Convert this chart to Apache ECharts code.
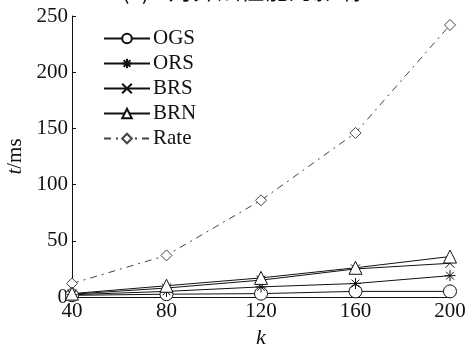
<!DOCTYPE html>
<html>
<head>
<meta charset="utf-8">
<script src="https://cdn.jsdelivr.net/npm/echarts@6/dist/echarts.min.js"></script>
<style>
    html, body { margin: 0; padding: 0; background: #fff; }
    #kChart { width: 471px; height: 345px; }
</style>
</head>
<body>
<div id="kChart"></div>
<script>
    // 横坐标 k
    var kValues = ['40', '80', '120', '160', '200'];
    // 各算法耗时 t/ms
    var ogsData = [1.5, 2.5, 3, 5, 5];
    var orsData = [2, 5, 9, 12, 19];
    var brsData = [2.5, 8, 15, 25, 30];
    var brnData = [3, 10, 17, 26, 36];
    var rateData = [12, 37, 86, 146, 242];
    // 纵坐标刻度
    var yTicks = [0, 50, 100, 150, 200, 250];

    var serif = '"Liberation Serif", "DejaVu Serif", serif';
    var ink = '#111';

    // 标记形状（空心，细线）
    var circlePath = 'path://M10,5A5,5 0 1,1 0,5A5,5 0 1,1 10,5Z';
    var starPath = 'path://M5,0L5,10M0,5L10,5M1.5,1.5L8.5,8.5M8.5,1.5L1.5,8.5';
    var crossPath = 'path://M0,0L10,10M10,0L0,10';
    var trianglePath = 'path://M5,0L10,9L0,9Z';
    var diamondPath = 'path://M5,0L10,5L5,10L0,5Z';

    // 折线
    function makeLine(name, data, symbol, size, dashed) {
        var c = dashed ? '#444' : ink;
        return {
            name: name,
            type: 'line',
            data: data,
            symbol: symbol,
            symbolSize: size,
            showSymbol: true,
            lineStyle: {
                color: c,
                width: 1,
                type: dashed ? [7, 5, 2, 5] : 'solid'
            },
            itemStyle: {
                color: '#fff',
                borderColor: c,
                borderWidth: 1
            },
            z: dashed ? 2 : 3
        };
    }

    var myChart = echarts.init(document.getElementById('kChart'));
    myChart.setOption({
        animation: false,
        backgroundColor: '#fff',
        title: {
            text: '(c) k对算法性能的影响',
            left: 241,
            textAlign: 'center',
            top: -22,
            padding: 0,
            textStyle: {
                fontFamily: '"Noto Sans CJK SC", ' + serif,
                fontSize: 24,
                fontWeight: 'normal',
                color: ink
            }
        },
        legend: {
            orient: 'vertical',
            left: 98,
            top: 23,
            itemWidth: 46,
            itemHeight: 12,
            itemGap: 4,
            data: ['OGS', 'ORS', 'BRS', 'BRN', 'Rate'],
            textStyle: {
                fontFamily: serif,
                fontSize: 21,
                color: ink,
                padding: [0, 0, 0, -2]
            }
        },
        grid: {
            left: 72,
            right: 21,
            top: 16,
            bottom: 48,
            outerBoundsMode: 'none'
        },
        xAxis: {
            type: 'category',
            boundaryGap: false,
            data: kValues,
            name: 'k',
            nameLocation: 'middle',
            nameGap: 21,
            nameTextStyle: {
                fontFamily: serif,
                fontSize: 22,
                fontStyle: 'italic',
                color: ink
            },
            axisLine: { lineStyle: { color: ink, width: 1 } },
            axisTick: { inside: true, length: 4, lineStyle: { color: ink } },
            axisLabel: {
                fontFamily: serif,
                fontSize: 21,
                color: ink,
                margin: 4
            },
            splitLine: { show: false }
        },
        yAxis: {
            type: 'value',
            min: yTicks[0],
            max: yTicks[yTicks.length - 1],
            interval: 50,
            name: '{i|t}/ms',
            nameLocation: 'middle',
            nameRotate: 90,
            nameGap: 34,
            nameTextStyle: {
                fontFamily: serif,
                fontSize: 21,
                color: ink,
                rich: {
                    i: { fontFamily: serif, fontSize: 21, fontStyle: 'italic', color: ink }
                }
            },
            axisLine: { show: true, lineStyle: { color: ink, width: 1 } },
            axisTick: { show: true, inside: true, length: 4, lineStyle: { color: ink } },
            axisLabel: {
                fontFamily: serif,
                fontSize: 21,
                color: ink,
                margin: 4
            },
            splitLine: { show: false }
        },
        series: [
            makeLine('Rate', rateData, diamondPath, 11, true),
            makeLine('OGS', ogsData, circlePath, 13, false),
            makeLine('ORS', orsData, starPath, 11, false),
            makeLine('BRS', brsData, crossPath, 9, false),
            makeLine('BRN', brnData, trianglePath, 13, false)
        ]
    });
</script>
</body>
</html>
